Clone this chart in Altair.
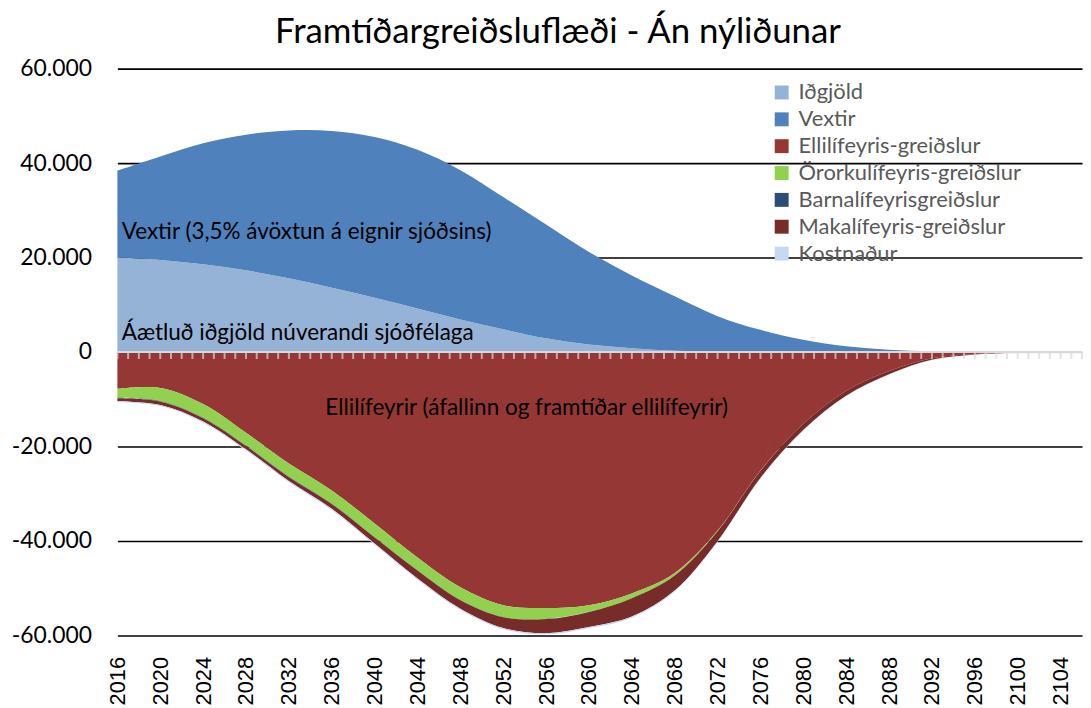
import altair as alt
import pandas as pd

# ---- data ----
years = [2016, 2020, 2024, 2028, 2032, 2036, 2040, 2044, 2048, 2052, 2056, 2060,
         2064, 2068, 2072, 2076, 2080, 2084, 2088, 2092, 2096, 2100, 2104]

series = ["Iðgjöld", "Vextir", "Ellilífeyris-greiðslur", "Örorkulífeyris-greiðslur",
          "Barnalífeyrisgreiðslur", "Makalífeyris-greiðslur", "Kostnaður"]
colors = ["#95B3D7", "#4F81BD", "#953735", "#92D050", "#2C4D75", "#772C2A", "#C6D9F1"]

idgjold = [20000, 19500, 18600, 17300, 15600, 13600, 11500, 9200, 6900, 4800, 2900, 1600,
           800, 250, 50, 0, 0, 0, 0, 0, 0, 0, 0]
vextir = [18400, 21900, 25600, 28700, 31300, 33200, 34000, 33600, 31600, 28000, 24100, 19600,
          15400, 11550, 7550, 4700, 2600, 1200, 500, 150, 30, 0, 0]
ellilifeyrir = [-7800, -7600, -11000, -17100, -23600, -29300, -36300, -43500, -49800, -53600,
                -54200, -53600, -51100, -46800, -37800, -25100, -15200, -8200, -4000, -1300,
                -400, -100, 0]
ororka = [-1900, -2800, -2900, -2700, -2800, -2800, -2900, -2700, -2700, -2500, -2300, -1400,
          -1000, -500, -150, -50, 0, 0, 0, 0, 0, 0, 0]
barna = [-100, -100, -100, -100, -100, -80, -60, -50, -40, -30, -20, -10,
         0, 0, 0, 0, 0, 0, 0, 0, 0, 0, 0]
maka = [-600, -700, -700, -700, -800, -1000, -1300, -1700, -1800, -2300, -3000, -3200,
        -3900, -3200, -2100, -1500, -1300, -1050, -700, -350, -120, -30, 0]
kostnadur = [-250, -250, -250, -250, -250, -250, -250, -250, -250, -250, -250, -250,
             -230, -200, -170, -130, -100, -70, -50, -30, -15, -5, 0]

tick_years = list(range(2016, 2107))
label_years = list(range(2016, 2105, 4))
y_values = [-60000, -40000, -20000, 0, 20000, 40000, 60000]

ann_text = ["Vextir (3,5% ávöxtun á eignir sjóðsins)",
            "Áætluð iðgjöld núverandi sjóðfélaga",
            "Ellilífeyrir (áfallinn og framtíðar ellilífeyrir)"]
ann_x = [2016.4, 2016.4, 2035.4]
ann_y = [25500, 4000, -11800]

# ---- tables ----
all_vals = [idgjold, vextir, ellilifeyrir, ororka, barna, maka, kostnadur]
rows = []
for i, (name, vals) in enumerate(zip(series, all_vals)):
    for yr, v in zip(years, vals):
        rows.append({"year": yr, "value": v, "series": name, "idx": i})
df = pd.DataFrame(rows)
ticks_df = pd.DataFrame({"year": tick_years, "value": [0] * len(tick_years)})
zero_df = pd.DataFrame({"value": [0]})
ann_df = pd.DataFrame({"year": ann_x, "value": ann_y, "t": ann_text})

CAL = "Lato"
ARIAL = "Liberation Sans"

xscale = alt.Scale(domain=[2016, 2106], nice=False, zero=False)
yscale = alt.Scale(domain=[-60000, 60000], nice=False)

xaxis = alt.Axis(values=label_years, format="d", labelAngle=270, ticks=False, domain=False,
                 grid=False, labelFont=ARIAL, labelFontSize=22, labelColor="black",
                 labelPadding=21, labelFlush=False, labelOverlap=False, title=None)
yaxis = alt.Axis(values=y_values,
                 labelExpr="replace(replace(format(datum.value, ','), ',', '.'), '\u2212', '-')",
                 ticks=False, domain=False,
                 gridColor={"condition": {"test": "datum.value === 0", "value": "#d9d9d9"},
                            "value": "black"},
                 gridWidth=1.6, labelFont=CAL, labelFontSize=23, labelColor="black",
                 labelPadding=26, title=None)

areas = alt.Chart(df).mark_area(interpolate="catmull-rom").encode(
    x=alt.X("year:Q", scale=xscale, axis=xaxis),
    y=alt.Y("value:Q", stack="zero", scale=yscale, axis=yaxis),
    color=alt.Color("series:N", scale=alt.Scale(domain=series, range=colors),
                    legend=alt.Legend(orient="none", legendX=657, legendY=13, title=None,
                                      symbolType="square", symbolSize=196,
                                      symbolStrokeWidth=0, labelFont=CAL,
                                      labelFontSize=22, labelColor="#595959",
                                      labelLimit=0, labelOffset=6, rowPadding=5,
                                      padding=0)),
    order=alt.Order("idx:Q", sort="ascending"),
)

zero_rule = alt.Chart(zero_df).mark_rule(color="#d9d9d9", strokeWidth=2).encode(
    y=alt.Y("value:Q", scale=yscale)
)

ticks = alt.Chart(ticks_df).mark_tick(orient="vertical", size=7, thickness=2,
                                      color="#d9d9d9", yOffset=3.5).encode(
    x=alt.X("year:Q", scale=xscale),
    y=alt.Y("value:Q", scale=yscale),
)

texts = alt.Chart(ann_df).mark_text(align="left", baseline="middle", font=CAL,
                                    fontSize=22.6, color="black").encode(
    x=alt.X("year:Q", scale=xscale),
    y=alt.Y("value:Q", scale=yscale),
    text="t:N",
)

chart = alt.layer(areas, zero_rule, ticks, texts).properties(
    width=970, height=570,
    padding={"left": 3, "top": 5, "right": 0, "bottom": 0},
    title=alt.TitleParams(text="Framtíðargreiðsluflæði - Án nýliðunar", font=CAL,
                          fontSize=35, fontWeight="normal", color="black",
                          anchor="middle", dx=-42, offset=8),
).configure_view(stroke=None)

chart.save("out.html", embed_options={"renderer": "svg", "actions": False})
